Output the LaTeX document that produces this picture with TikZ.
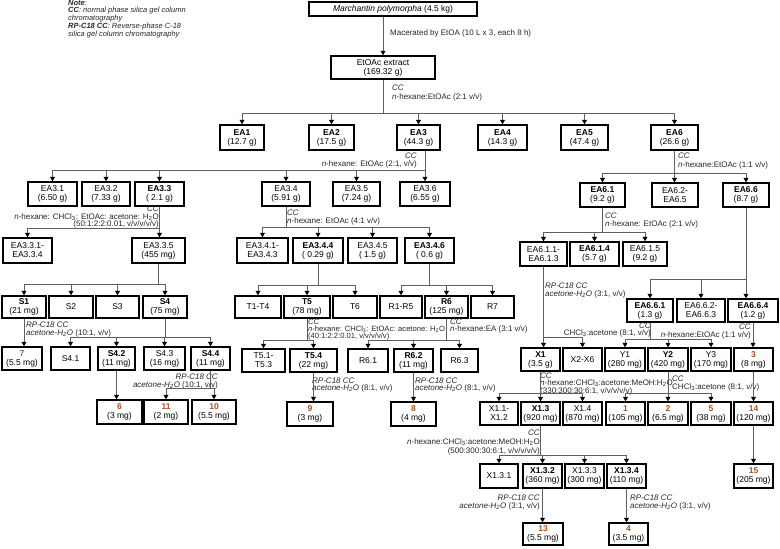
\documentclass[tikz,border=0pt]{standalone}
\usepackage{fontspec}
\setmainfont{Liberation Sans}
\usetikzlibrary{arrows.meta,calc}
\definecolor{cpdc}{RGB}{176,80,28}
\definecolor{lnc}{RGB}{95,95,95}
\newcommand\Cpd[1]{\textcolor{cpdc}{\textbf{#1}}}
\newcommand\BX[7][]{\node[box,#1,minimum width={(#5-#3)*1pt},minimum height={(#6-#4)*1pt}] (#2) at ({(#3+#5)/2},{(#4+#6)/2}) {#7};}
\begin{document}
\begin{tikzpicture}[x=1pt,y=-1pt,
 box/.style={draw=black,line width=1.5pt,inner sep=0pt,align=center,font=\fontsize{8.5}{9}\selectfont},
 ann/.style={inner sep=0pt,font=\fontsize{8}{7.8}\selectfont,text=black!85},
 con/.style={draw=lnc,line width=0.9pt},
 arr/.style={con,-{Triangle[length=4.5pt,width=5pt,color=black]}},
]
\useasboundingbox (0,0) rectangle (780,549);
% ---------- boxes ----------
\BX{mp}{309}{2}{477}{16}{\textit{Marchantin polymorpha} (4.5 kg)}
\BX{ext}{331}{56}{435}{79}{EtOAc extract\\(169.32 g)}
\BX{ea1}{220}{125}{264}{150}{\textbf{EA1}\\(12.7 g)}
\BX{ea2}{309}{125}{354}{150}{\textbf{EA2}\\(17.5 g)}
\BX{ea3}{397}{125}{440}{150}{\textbf{EA3}\\(44.3 g)}
\BX{ea4}{478}{125}{527}{150}{\textbf{EA4}\\(14.3 g)}
\BX{ea5}{561}{125}{608}{150}{\textbf{EA5}\\(47.4 g)}
\BX{ea6}{651}{125}{698}{150}{\textbf{EA6}\\(26.6 g)}
\BX{e31}{28}{182}{77}{206}{EA3.1\\(6.50 g)}
\BX{e32}{82}{182}{130}{206}{EA3.2\\(7.33 g)}
\BX{e33}{135}{182}{184}{206}{\textbf{EA3.3}\\( 2.1 g)}
\BX{e34}{262}{182}{310}{206}{EA3.4\\(5.91 g)}
\BX{e35}{333}{182}{380}{206}{EA3.5\\(7.24 g)}
\BX{e36}{400}{182}{450}{206}{EA3.6\\(6.55 g)}
\BX{e61}{580}{183}{625}{207}{\textbf{EA6.1}\\(9.2 g)}
\BX{e62}{652}{183}{698}{207}{EA6.2-\\EA6.5}
\BX{e66}{723}{183}{769}{207}{\textbf{EA6.6}\\(8.7 g)}
\BX{e331}{3}{238}{52}{263}{EA3.3.1-\\EA3.3.4}
\BX{e335}{132}{238}{185}{263}{EA3.3.5\\(455 mg)}
\BX{e341}{237}{238}{288}{263}{EA3.4.1-\\EA3.4.3}
\BX{e344}{293}{238}{343}{263}{\textbf{EA3.4.4}\\( 0.29 g)}
\BX{e345}{348}{238}{397}{263}{EA3.4.5\\( 1.5 g)}
\BX{e346}{405}{238}{454}{263}{\textbf{EA3.4.6}\\( 0.6 g)}
\BX{e611}{520}{242}{567}{266}{EA6.1.1-\\EA6.1.3}
\BX{e614}{570}{242}{619}{266}{\textbf{EA6.1.4}\\(5.7 g)}
\BX{e615}{623}{242}{667}{266}{EA6.1.5\\(9.2 g)}
\BX{s1}{2}{296}{46}{318}{\textbf{S1}\\(21 mg)}
\BX{s2}{49}{296}{93}{318}{S2}
\BX{s3}{96}{296}{139}{318}{S3}
\BX{s4}{143}{296}{187}{318}{\textbf{S4}\\(75 mg)}
\BX{t14}{235}{296}{281}{318}{T1-T4}
\BX{t5}{284}{296}{330}{318}{\textbf{T5}\\(78 mg)}
\BX{t6}{333}{296}{377}{318}{T6}
\BX{r15}{380}{296}{422}{318}{R1-R5}
\BX{r6}{425}{296}{468}{318}{\textbf{R6}\\(125 mg)}
\BX{r7}{471}{296}{514}{318}{R7}
\BX{e661}{627}{299}{673}{322}{\textbf{EA6.6.1}\\(1.3 g)}
\BX{e662}{677}{299}{725}{322}{EA6.6.2-\\EA6.6.3}
\BX{e664}{728}{299}{778}{322}{\textbf{EA6.6.4}\\(1.2 g)}
\BX{c7}{2}{347}{42}{370}{\Cpd{7}\\(5.5 mg)}
\BX{s41}{51}{347}{90}{370}{S4.1}
\BX{s42}{98}{347}{135}{370}{\textbf{S4.2}\\(11 mg)}
\BX{s43}{144}{347}{185}{370}{S4.3\\(16 mg)}
\BX{s44}{191}{347}{230}{370}{\textbf{S4.4}\\(11 mg)}
\BX{t51}{242}{349}{285}{372}{T5.1-\\T5.3}
\BX{t54}{290}{349}{337}{372}{\textbf{T5.4}\\(22 mg)}
\BX{r61}{348}{349}{388}{372}{R6.1}
\BX{r62}{394}{349}{433}{372}{\textbf{R6.2}\\(11 mg)}
\BX{r63}{441}{349}{478}{372}{R6.3}
\BX{x1}{521}{348}{560}{371}{\textbf{X1}\\(3.5 g)}
\BX{x26}{563}{348}{602}{371}{X2-X6}
\BX{y1}{605}{348}{645}{371}{Y1\\(280 mg)}
\BX{y2}{648}{348}{688}{371}{\textbf{Y2}\\(420 mg)}
\BX{y3}{691}{348}{731}{371}{Y3\\(170 mg)}
\BX{c3}{734}{348}{773}{371}{\Cpd{3}\\(8 mg)}
\BX{c6}{97}{400}{142}{424}{\Cpd{6}\\(3 mg)}
\BX{c11}{144}{400}{188}{424}{\Cpd{11}\\(2 mg)}
\BX{c10}{192}{400}{236}{424}{\Cpd{10}\\(5.5 mg)}
\BX{c9}{287}{402}{333}{426}{\Cpd{9}\\(3 mg)}
\BX{c8}{391}{402}{436}{426}{\Cpd{8}\\(4 mg)}
\BX{x11}{480}{402}{518}{425}{X1.1-\\X1.2}
\BX{x13}{521}{402}{560}{425}{\textbf{X1.3}\\(920 mg)}
\BX{x14}{563}{402}{602}{425}{X1.4\\(870 mg)}
\BX{c1}{606}{402}{645}{425}{\Cpd{1}\\(105 mg)}
\BX{c2}{648}{402}{688}{425}{\Cpd{2}\\(6.5 mg)}
\BX{c5}{691}{402}{731}{425}{\Cpd{5}\\(38 mg)}
\BX{c14}{734}{402}{773}{425}{\Cpd{14}\\(120 mg)}
\BX{x131}{480}{464}{518}{488}{X1.3.1}
\BX{x132}{523}{464}{562}{488}{\textbf{X1.3.2}\\(360 mg)}
\BX{x133}{565}{464}{604}{488}{X1.3.3\\(300 mg)}
\BX{x134}{607}{464}{646}{488}{\textbf{X1.3.4}\\(110 mg)}
\BX{c15}{734}{464}{773}{488}{\Cpd{15}\\(205 mg)}
\BX{c13}{523}{523}{563}{545}{\Cpd{13}\\(5.5 mg)}
\BX{c4}{609}{523}{648}{545}{\Cpd{4}\\(3.5 mg)}
% ---------- annotations ----------
\node[anchor=north west,inner sep=0pt,align=left,font=\fontsize{7.5}{6.8}\selectfont\itshape,text=black!85] (note) at (68,0.5)
 {\textbf{Note}:\\\textbf{CC}: normal phase silica gel column\\chromatography\\\textbf{RP-C18 CC}: Reverse-phase C-18\\silica gel column chromatography};
\node[ann,anchor=west] (a0) at (390,33) {Macerated by EtOA (10 L x 3, each 8 h)};
\node[ann,anchor=north west,align=left,font=\fontsize{8}{9}\selectfont] (a1) at (392,84.5) {\textit{CC}\\\textit{n}-hexane:EtOAc (2:1 v/v)};
\node[ann,anchor=north east,align=right] (a2) at (417,153) {\textit{CC}\\\textit{n}-hexane: EtOAc (2:1, v/v)};
\node[ann,anchor=north west,align=left,font=\fontsize{8}{9}\selectfont] (a3) at (678,152.5) {\textit{CC}\\\textit{n}-hexane:EtOAc (1:1 v/v)};
\node[ann,anchor=north east,align=right] (a4) at (159,205.5) {\textit{CC}\\\textit{n}-hexane: CHCl\textsubscript{3}: EtOAc: acetone: H\textsubscript{2}O\\(50:1:2:2:0.01, v/v/v/v/v)};
\node[ann,anchor=north west,align=left] (a5) at (287,209.5) {\textit{CC}\\\textit{n}-hexane: EtOAc (4:1 v/v)};
\node[ann,anchor=north west,align=left] (a6) at (605,212.5) {\textit{CC}\\\textit{n}-hexane: EtOAc (2:1 v/v)};
\node[ann,anchor=north west,align=left] (a7) at (26,321.5) {\textit{RP-C18 CC}\\\textit{acetone-H\textsubscript{2}O} (10:1, v/v)};
\node[ann,anchor=north east,align=right] (a8) at (218,373.5) {\textit{RP-C18 CC}\\\textit{acetone-H\textsubscript{2}O} (10:1, v/v)};
\node[ann,anchor=north west,align=left,font=\fontsize{7.6}{7.2}\selectfont] (a9) at (308,318.5) {\textit{CC}\\\textit{n}-hexane: CHCl\textsubscript{3}: EtOAc: acetone: H\textsubscript{2}O\\(40:1:2:2:0.01, v/v/v/v/v)};
\node[ann,anchor=north west,align=left,font=\fontsize{8}{7.2}\selectfont] (a10) at (450,318.5) {\textit{CC}\\\textit{n}-hexane:EA (3:1 v/v)};
\node[ann,anchor=north west,align=left,font=\fontsize{8}{7}\selectfont] (a11) at (312,377.5) {\textit{RP-C18 CC}\\\textit{acetone-H\textsubscript{2}O} (8:1, v/v)};
\node[ann,anchor=north west,align=left,font=\fontsize{8}{7}\selectfont] (a12) at (415,377.5) {\textit{RP-C18 CC}\\\textit{acetone-H\textsubscript{2}O} (8:1, v/v)};
\node[ann,anchor=north west,align=left] (a13) at (545,282.5) {\textit{RP-C18 CC}\\\textit{acetone-H\textsubscript{2}O} (3:1, v/v)};
\node[ann,anchor=north east,align=right,font=\fontsize{8}{7.2}\selectfont] (a14) at (651,322.5) {\textit{CC}\\CHCl\textsubscript{3}:acetone (8:1, v/v)};
\node[ann,anchor=north east,align=right] (a15) at (751,323.5) {\textit{CC}\\\textit{n}-hexane:EtOAc (1:1 v/v)};
\node[ann,anchor=north west,align=left,font=\fontsize{8}{7.2}\selectfont] (a16) at (540,372.5) {\textit{CC}\\\textit{n}-hexane:CHCl\textsubscript{3}:acetone:MeOH:H\textsubscript{2}O\\(330:300:30:6:1, v/v/v/v/v)};
\node[ann,anchor=north west,align=left] (a17) at (672,375.5) {\textit{CC}\\CHCl\textsubscript{3}:acetone (8:1, v/v)};
\node[ann,anchor=north east,align=right,font=\fontsize{8}{9}\selectfont] (a18) at (540,429.5) {\textit{CC}\\\textit{n}-hexane:CHCl\textsubscript{3}:acetone:MeOH:H\textsubscript{2}O\\(500:300:30:6:1, v/v/v/v/v)};
\node[ann,anchor=north east,align=right] (a19) at (540,494.5) {\textit{RP-C18 CC}\\\textit{acetone-H\textsubscript{2}O} (3:1, v/v)};
\node[ann,anchor=north west,align=left] (a20) at (630,494.5) {\textit{RP-C18 CC}\\\textit{acetone-H\textsubscript{2}O} (3:1, v/v)};
% ---------- connectors ----------
\draw[arr] (mp.south -| ext.north) -- (ext.north);
\coordinate (b0) at (0,113);
\draw[con] (ext.south) -- (ext.south |- b0);
\draw[con] (ea1.north |- b0) -- (ea6.north |- b0);
\foreach \n in {ea1,ea2,ea3,ea4,ea5,ea6} \draw[arr] (\n.north |- b0) -- (\n.north);
% EA3
\coordinate (b3) at (0,170);
\draw[arr] (ea3.south -| e36.north) -- (e36.north);
\draw[con] (e31.north |- b3) -- (e36.north |- b3);
\foreach \n in {e31,e32,e33,e34,e35} \draw[arr] (\n.north |- b3) -- (\n.north);
% EA6
\coordinate (b6) at (0,173);
\draw[arr] (ea6.south) -- (ea6.south |- e62.north);
\draw[con] (e61.north |- b6) -- (e66.north |- b6);
\foreach \n in {e61,e66} \draw[arr] (\n.north |- b6) -- (\n.north);
% EA3.3
\coordinate (b33) at (0,228);
\draw[arr] (e33.south) -- (e33.south |- e335.north);
\draw[con] (e331.north |- b33) -- (e33.south |- b33);
\draw[arr] (e331.north |- b33) -- (e331.north);
% EA3.4
\coordinate (b34) at (0,227);
\draw[con] (e34.south) -- (e34.south |- b34);
\draw[con] (e341.north |- b34) -- (e346.north |- b34);
\foreach \n in {e341,e344,e345,e346} \draw[arr] (\n.north |- b34) -- (\n.north);
% EA3.3.5
\coordinate (b335) at (0,284);
\draw[con] (e335.south) -- (e335.south |- b335);
\draw[con] (s1.north |- b335) -- (s4.north |- b335);
\foreach \n in {s1,s2,s3,s4} \draw[arr] (\n.north |- b335) -- (\n.north);
% EA3.4.4 and EA3.4.6
\coordinate (b344) at (0,285);
\draw[con] (e344.south) -- (e344.south |- b344);
\draw[con] (t14.north |- b344) -- (t6.north |- b344);
\foreach \n in {t14,t5,t6} \draw[arr] (\n.north |- b344) -- (\n.north);
\draw[con] (e346.south) -- (e346.south |- b344);
\draw[con] (r15.north |- b344) -- (r7.north |- b344);
\foreach \n in {r15,r6,r7} \draw[arr] (\n.north |- b344) -- (\n.north);
% S1, S4
\draw[arr] (s1.south) -- (s1.south |- c7.north);
\coordinate (bs4) at (0,337);
\draw[con] (s4.south) -- (s4.south |- bs4);
\draw[con] (s41.north |- bs4) -- (s44.north |- bs4);
\foreach \n in {s41,s42,s43,s44} \draw[arr] (\n.north |- bs4) -- (\n.north);
\draw[arr] (s42.south) -- (s42.south |- c6.north);
\coordinate (bs44) at (0,388);
\draw[con] (s44.south) -- (s44.south |- bs44);
\draw[con] (c11.north |- bs44) -- (c10.north |- bs44);
\foreach \n in {c11,c10} \draw[arr] (\n.north |- bs44) -- (\n.north);
% T5, R6
\coordinate (bt5) at (0,340);
\draw[con] (t5.south) -- (t5.south |- bt5);
\draw[con] (t51.north |- bt5) -- (t54.north |- bt5);
\foreach \n in {t51,t54} \draw[arr] (\n.north |- bt5) -- (\n.north);
\draw[con] (r6.south) -- (r6.south |- bt5);
\draw[con] (r61.north |- bt5) -- (r63.north |- bt5);
\foreach \n in {r61,r62,r63} \draw[arr] (\n.north |- bt5) -- (\n.north);
\draw[arr] (t54.south) -- (t54.south |- c9.north);
\draw[arr] (r62.south) -- (r62.south |- c8.north);
% EA6.1
\coordinate (b61) at (0,232);
\draw[con] (e61.south) -- (e61.south |- b61);
\draw[con] (e611.north |- b61) -- (e615.north |- b61);
\foreach \n in {e611,e614,e615} \draw[arr] (\n.north |- b61) -- (\n.north);
% EA6.6
\coordinate (b66) at (0,279);
\draw[arr] (e66.south) -- (e66.south |- e664.north);
\draw[con] (e661.north |- b66) -- (e66.south |- b66);
\foreach \n in {e661,e662} \draw[arr] (\n.north |- b66) -- (\n.north);
% EA6.1.1
\coordinate (b611) at (0,337);
\draw[arr] (e611.south) -- (e611.south |- x1.north);
\draw[con] (e611.south |- b611) -- (x26.north |- b611);
\draw[arr] (x26.north |- b611) -- (x26.north);
% EA6.6.1
\coordinate (b661) at (0,339);
\draw[con] (e661.south) -- (e661.south |- b661);
\draw[con] (y1.north |- b661) -- (y3.north |- b661);
\foreach \n in {y1,y2,y3} \draw[arr] (\n.north |- b661) -- (\n.north);
\draw[arr] (e664.south) -- (e664.south |- c3.north);
% X1, Y2
\coordinate (bx1) at (0,393);
\draw[con] (x1.south) -- (x1.south |- bx1);
\draw[con] (x11.north |- bx1) -- (x14.north |- bx1);
\foreach \n in {x11,x13,x14} \draw[arr] (\n.north |- bx1) -- (\n.north);
\draw[con] (y2.south) -- (y2.south |- bx1);
\draw[con] (c1.north |- bx1) -- (c5.north |- bx1);
\foreach \n in {c1,c2,c5} \draw[arr] (\n.north |- bx1) -- (\n.north);
\draw[arr] (c3.south) -- (c14.north);
\draw[arr] (c14.south) -- (c15.north);
% X1.3
\coordinate (bx13) at (0,455);
\draw[con] (x13.south) -- (x13.south |- bx13);
\draw[con] (x131.north |- bx13) -- (x134.north |- bx13);
\foreach \n in {x131,x132,x133,x134} \draw[arr] (\n.north |- bx13) -- (\n.north);
\draw[arr] (x132.south) -- (x132.south |- c13.north);
\draw[arr] (x134.south) -- (x134.south |- c4.north);
\end{tikzpicture}
\end{document}
